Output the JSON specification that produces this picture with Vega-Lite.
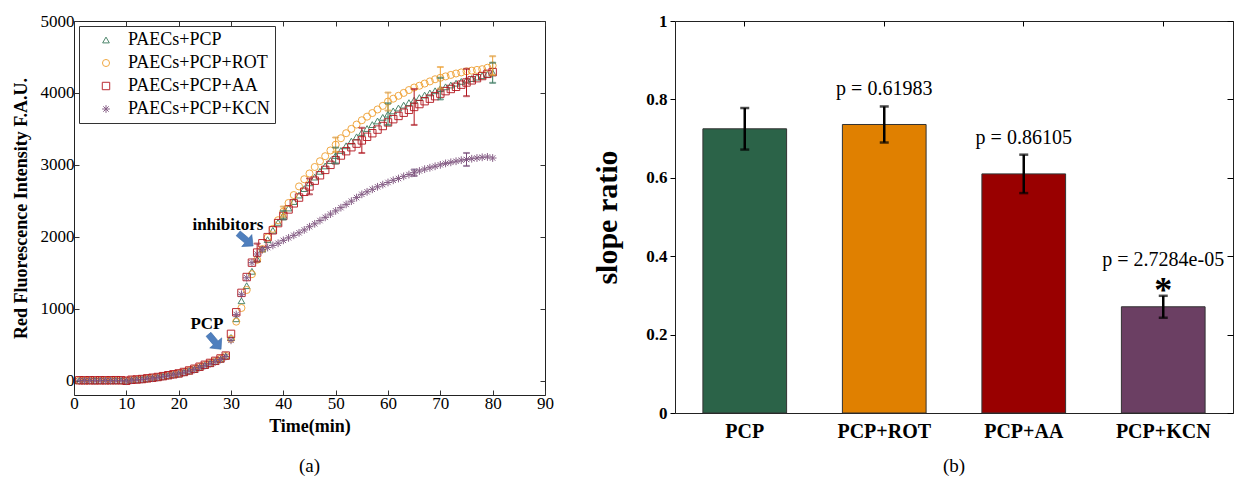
{
  "$schema": "https://vega.github.io/schema/vega-lite/v6.json",
  "padding": {"left": 11, "top": 11, "right": 0, "bottom": 0},
  "bounds": "flush",
  "spacing": 130,
  "resolve": {
    "scale": {"color": "independent", "shape": "independent", "size": "independent", "stroke": "independent"},
    "legend": {"color": "independent", "shape": "independent", "size": "independent", "stroke": "independent"}
  },
  "config": {
    "font": "Liberation Serif",
    "view": {"stroke": "#222", "strokeWidth": 1},
    "axis": {
      "grid": false,
      "labelFont": "Liberation Serif",
      "titleFont": "Liberation Serif",
      "labelColor": "#000",
      "titleColor": "#000",
      "tickColor": "#333",
      "domain": false
    },
    "legend": {"labelFont": "Liberation Serif", "titleFont": "Liberation Serif"},
    "text": {"font": "Liberation Serif"},
    "title": {"font": "Liberation Serif", "fontWeight": "normal", "fontSize": 19, "color": "#000"}
  },
  "datasets": {
    "curves": [
      {"t":1,"s":"PAECs+PCP","v":0},{"t":2,"s":"PAECs+PCP","v":0},{"t":3,"s":"PAECs+PCP","v":0},{"t":4,"s":"PAECs+PCP","v":0},{"t":5,"s":"PAECs+PCP","v":0},{"t":6,"s":"PAECs+PCP","v":0},{"t":7,"s":"PAECs+PCP","v":0},{"t":8,"s":"PAECs+PCP","v":0},{"t":9,"s":"PAECs+PCP","v":0},{"t":10,"s":"PAECs+PCP","v":-5},
      {"t":11,"s":"PAECs+PCP","v":8},{"t":12,"s":"PAECs+PCP","v":12},{"t":13,"s":"PAECs+PCP","v":18},{"t":14,"s":"PAECs+PCP","v":27},{"t":15,"s":"PAECs+PCP","v":36},{"t":16,"s":"PAECs+PCP","v":46},{"t":17,"s":"PAECs+PCP","v":58},{"t":18,"s":"PAECs+PCP","v":70},{"t":19,"s":"PAECs+PCP","v":83},{"t":20,"s":"PAECs+PCP","v":95},
      {"t":21,"s":"PAECs+PCP","v":114},{"t":22,"s":"PAECs+PCP","v":135},{"t":23,"s":"PAECs+PCP","v":158},{"t":24,"s":"PAECs+PCP","v":188},{"t":25,"s":"PAECs+PCP","v":212},{"t":26,"s":"PAECs+PCP","v":238},{"t":27,"s":"PAECs+PCP","v":266},{"t":28,"s":"PAECs+PCP","v":298},{"t":29,"s":"PAECs+PCP","v":340},{"t":30,"s":"PAECs+PCP","v":600},
      {"t":31,"s":"PAECs+PCP","v":860},{"t":32,"s":"PAECs+PCP","v":1110},{"t":33,"s":"PAECs+PCP","v":1320},{"t":34,"s":"PAECs+PCP","v":1520},{"t":35,"s":"PAECs+PCP","v":1690},{"t":36,"s":"PAECs+PCP","v":1830},{"t":37,"s":"PAECs+PCP","v":1960},{"t":38,"s":"PAECs+PCP","v":2090},{"t":39,"s":"PAECs+PCP","v":2200},{"t":40,"s":"PAECs+PCP","v":2300},
      {"t":41,"s":"PAECs+PCP","v":2400},{"t":42,"s":"PAECs+PCP","v":2490},{"t":43,"s":"PAECs+PCP","v":2580},{"t":44,"s":"PAECs+PCP","v":2670},{"t":45,"s":"PAECs+PCP","v":2750},{"t":46,"s":"PAECs+PCP","v":2830},{"t":47,"s":"PAECs+PCP","v":2910},{"t":48,"s":"PAECs+PCP","v":2985},{"t":49,"s":"PAECs+PCP","v":3060},{"t":50,"s":"PAECs+PCP","v":3130},
      {"t":51,"s":"PAECs+PCP","v":3200},{"t":52,"s":"PAECs+PCP","v":3265},{"t":53,"s":"PAECs+PCP","v":3330},{"t":54,"s":"PAECs+PCP","v":3390},{"t":55,"s":"PAECs+PCP","v":3450},{"t":56,"s":"PAECs+PCP","v":3505},{"t":57,"s":"PAECs+PCP","v":3560},{"t":58,"s":"PAECs+PCP","v":3610},{"t":59,"s":"PAECs+PCP","v":3660},{"t":60,"s":"PAECs+PCP","v":3705},
      {"t":61,"s":"PAECs+PCP","v":3750},{"t":62,"s":"PAECs+PCP","v":3790},{"t":63,"s":"PAECs+PCP","v":3830},{"t":64,"s":"PAECs+PCP","v":3865},{"t":65,"s":"PAECs+PCP","v":3900},{"t":66,"s":"PAECs+PCP","v":3935},{"t":67,"s":"PAECs+PCP","v":3970},{"t":68,"s":"PAECs+PCP","v":4000},{"t":69,"s":"PAECs+PCP","v":4030},{"t":70,"s":"PAECs+PCP","v":4060},
      {"t":71,"s":"PAECs+PCP","v":4085},{"t":72,"s":"PAECs+PCP","v":4110},{"t":73,"s":"PAECs+PCP","v":4135},{"t":74,"s":"PAECs+PCP","v":4160},{"t":75,"s":"PAECs+PCP","v":4180},{"t":76,"s":"PAECs+PCP","v":4200},{"t":77,"s":"PAECs+PCP","v":4220},{"t":78,"s":"PAECs+PCP","v":4240},{"t":79,"s":"PAECs+PCP","v":4260},{"t":80,"s":"PAECs+PCP","v":4280},

      {"t":1,"s":"PAECs+PCP+ROT","v":2},{"t":2,"s":"PAECs+PCP+ROT","v":1},{"t":3,"s":"PAECs+PCP+ROT","v":2},{"t":4,"s":"PAECs+PCP+ROT","v":0},{"t":5,"s":"PAECs+PCP+ROT","v":1},{"t":6,"s":"PAECs+PCP+ROT","v":3},{"t":7,"s":"PAECs+PCP+ROT","v":2},{"t":8,"s":"PAECs+PCP+ROT","v":1},{"t":9,"s":"PAECs+PCP+ROT","v":2},{"t":10,"s":"PAECs+PCP+ROT","v":-3},
      {"t":11,"s":"PAECs+PCP+ROT","v":10},{"t":12,"s":"PAECs+PCP+ROT","v":14},{"t":13,"s":"PAECs+PCP+ROT","v":20},{"t":14,"s":"PAECs+PCP+ROT","v":28},{"t":15,"s":"PAECs+PCP+ROT","v":38},{"t":16,"s":"PAECs+PCP+ROT","v":48},{"t":17,"s":"PAECs+PCP+ROT","v":60},{"t":18,"s":"PAECs+PCP+ROT","v":73},{"t":19,"s":"PAECs+PCP+ROT","v":86},{"t":20,"s":"PAECs+PCP+ROT","v":99},
      {"t":21,"s":"PAECs+PCP+ROT","v":118},{"t":22,"s":"PAECs+PCP+ROT","v":139},{"t":23,"s":"PAECs+PCP+ROT","v":162},{"t":24,"s":"PAECs+PCP+ROT","v":190},{"t":25,"s":"PAECs+PCP+ROT","v":215},{"t":26,"s":"PAECs+PCP+ROT","v":242},{"t":27,"s":"PAECs+PCP+ROT","v":270},{"t":28,"s":"PAECs+PCP+ROT","v":302},{"t":29,"s":"PAECs+PCP+ROT","v":343},{"t":30,"s":"PAECs+PCP+ROT","v":580},
      {"t":31,"s":"PAECs+PCP+ROT","v":820},{"t":32,"s":"PAECs+PCP+ROT","v":1010},{"t":33,"s":"PAECs+PCP+ROT","v":1260},{"t":34,"s":"PAECs+PCP+ROT","v":1480},{"t":35,"s":"PAECs+PCP+ROT","v":1680},{"t":36,"s":"PAECs+PCP+ROT","v":1830},{"t":37,"s":"PAECs+PCP+ROT","v":1990},{"t":38,"s":"PAECs+PCP+ROT","v":2110},{"t":39,"s":"PAECs+PCP+ROT","v":2230},{"t":40,"s":"PAECs+PCP+ROT","v":2350},
      {"t":41,"s":"PAECs+PCP+ROT","v":2470},{"t":42,"s":"PAECs+PCP+ROT","v":2580},{"t":43,"s":"PAECs+PCP+ROT","v":2700},{"t":44,"s":"PAECs+PCP+ROT","v":2800},{"t":45,"s":"PAECs+PCP+ROT","v":2880},{"t":46,"s":"PAECs+PCP+ROT","v":2970},{"t":47,"s":"PAECs+PCP+ROT","v":3050},{"t":48,"s":"PAECs+PCP+ROT","v":3120},{"t":49,"s":"PAECs+PCP+ROT","v":3200},{"t":50,"s":"PAECs+PCP+ROT","v":3280},
      {"t":51,"s":"PAECs+PCP+ROT","v":3370},{"t":52,"s":"PAECs+PCP+ROT","v":3440},{"t":53,"s":"PAECs+PCP+ROT","v":3500},{"t":54,"s":"PAECs+PCP+ROT","v":3560},{"t":55,"s":"PAECs+PCP+ROT","v":3620},{"t":56,"s":"PAECs+PCP+ROT","v":3670},{"t":57,"s":"PAECs+PCP+ROT","v":3720},{"t":58,"s":"PAECs+PCP+ROT","v":3770},{"t":59,"s":"PAECs+PCP+ROT","v":3820},{"t":60,"s":"PAECs+PCP+ROT","v":3880},
      {"t":61,"s":"PAECs+PCP+ROT","v":3920},{"t":62,"s":"PAECs+PCP+ROT","v":3960},{"t":63,"s":"PAECs+PCP+ROT","v":4000},{"t":64,"s":"PAECs+PCP+ROT","v":4040},{"t":65,"s":"PAECs+PCP+ROT","v":4075},{"t":66,"s":"PAECs+PCP+ROT","v":4100},{"t":67,"s":"PAECs+PCP+ROT","v":4130},{"t":68,"s":"PAECs+PCP+ROT","v":4160},{"t":69,"s":"PAECs+PCP+ROT","v":4190},{"t":70,"s":"PAECs+PCP+ROT","v":4210},
      {"t":71,"s":"PAECs+PCP+ROT","v":4230},{"t":72,"s":"PAECs+PCP+ROT","v":4250},{"t":73,"s":"PAECs+PCP+ROT","v":4270},{"t":74,"s":"PAECs+PCP+ROT","v":4285},{"t":75,"s":"PAECs+PCP+ROT","v":4300},{"t":76,"s":"PAECs+PCP+ROT","v":4310},{"t":77,"s":"PAECs+PCP+ROT","v":4320},{"t":78,"s":"PAECs+PCP+ROT","v":4330},{"t":79,"s":"PAECs+PCP+ROT","v":4350},{"t":80,"s":"PAECs+PCP+ROT","v":4380},

      {"t":1,"s":"PAECs+PCP+AA","v":5},{"t":2,"s":"PAECs+PCP+AA","v":4},{"t":3,"s":"PAECs+PCP+AA","v":5},{"t":4,"s":"PAECs+PCP+AA","v":4},{"t":5,"s":"PAECs+PCP+AA","v":5},{"t":6,"s":"PAECs+PCP+AA","v":4},{"t":7,"s":"PAECs+PCP+AA","v":5},{"t":8,"s":"PAECs+PCP+AA","v":6},{"t":9,"s":"PAECs+PCP+AA","v":5},{"t":10,"s":"PAECs+PCP+AA","v":-2},
      {"t":11,"s":"PAECs+PCP+AA","v":12},{"t":12,"s":"PAECs+PCP+AA","v":16},{"t":13,"s":"PAECs+PCP+AA","v":22},{"t":14,"s":"PAECs+PCP+AA","v":32},{"t":15,"s":"PAECs+PCP+AA","v":40},{"t":16,"s":"PAECs+PCP+AA","v":50},{"t":17,"s":"PAECs+PCP+AA","v":62},{"t":18,"s":"PAECs+PCP+AA","v":75},{"t":19,"s":"PAECs+PCP+AA","v":88},{"t":20,"s":"PAECs+PCP+AA","v":100},
      {"t":21,"s":"PAECs+PCP+AA","v":120},{"t":22,"s":"PAECs+PCP+AA","v":141},{"t":23,"s":"PAECs+PCP+AA","v":165},{"t":24,"s":"PAECs+PCP+AA","v":193},{"t":25,"s":"PAECs+PCP+AA","v":220},{"t":26,"s":"PAECs+PCP+AA","v":246},{"t":27,"s":"PAECs+PCP+AA","v":275},{"t":28,"s":"PAECs+PCP+AA","v":308},{"t":29,"s":"PAECs+PCP+AA","v":348},{"t":30,"s":"PAECs+PCP+AA","v":650},
      {"t":31,"s":"PAECs+PCP+AA","v":950},{"t":32,"s":"PAECs+PCP+AA","v":1220},{"t":33,"s":"PAECs+PCP+AA","v":1440},{"t":34,"s":"PAECs+PCP+AA","v":1640},{"t":35,"s":"PAECs+PCP+AA","v":1780},{"t":36,"s":"PAECs+PCP+AA","v":1910},{"t":37,"s":"PAECs+PCP+AA","v":1995},{"t":38,"s":"PAECs+PCP+AA","v":2090},{"t":39,"s":"PAECs+PCP+AA","v":2190},{"t":40,"s":"PAECs+PCP+AA","v":2290},
      {"t":41,"s":"PAECs+PCP+AA","v":2380},{"t":42,"s":"PAECs+PCP+AA","v":2465},{"t":43,"s":"PAECs+PCP+AA","v":2545},{"t":44,"s":"PAECs+PCP+AA","v":2625},{"t":45,"s":"PAECs+PCP+AA","v":2700},{"t":46,"s":"PAECs+PCP+AA","v":2780},{"t":47,"s":"PAECs+PCP+AA","v":2855},{"t":48,"s":"PAECs+PCP+AA","v":2930},{"t":49,"s":"PAECs+PCP+AA","v":3000},{"t":50,"s":"PAECs+PCP+AA","v":3065},
      {"t":51,"s":"PAECs+PCP+AA","v":3130},{"t":52,"s":"PAECs+PCP+AA","v":3190},{"t":53,"s":"PAECs+PCP+AA","v":3245},{"t":54,"s":"PAECs+PCP+AA","v":3295},{"t":55,"s":"PAECs+PCP+AA","v":3340},{"t":56,"s":"PAECs+PCP+AA","v":3390},{"t":57,"s":"PAECs+PCP+AA","v":3440},{"t":58,"s":"PAECs+PCP+AA","v":3490},{"t":59,"s":"PAECs+PCP+AA","v":3540},{"t":60,"s":"PAECs+PCP+AA","v":3590},
      {"t":61,"s":"PAECs+PCP+AA","v":3635},{"t":62,"s":"PAECs+PCP+AA","v":3680},{"t":63,"s":"PAECs+PCP+AA","v":3725},{"t":64,"s":"PAECs+PCP+AA","v":3765},{"t":65,"s":"PAECs+PCP+AA","v":3805},{"t":66,"s":"PAECs+PCP+AA","v":3845},{"t":67,"s":"PAECs+PCP+AA","v":3885},{"t":68,"s":"PAECs+PCP+AA","v":3920},{"t":69,"s":"PAECs+PCP+AA","v":3955},{"t":70,"s":"PAECs+PCP+AA","v":3990},
      {"t":71,"s":"PAECs+PCP+AA","v":4025},{"t":72,"s":"PAECs+PCP+AA","v":4055},{"t":73,"s":"PAECs+PCP+AA","v":4085},{"t":74,"s":"PAECs+PCP+AA","v":4115},{"t":75,"s":"PAECs+PCP+AA","v":4145},{"t":76,"s":"PAECs+PCP+AA","v":4175},{"t":77,"s":"PAECs+PCP+AA","v":4205},{"t":78,"s":"PAECs+PCP+AA","v":4235},{"t":79,"s":"PAECs+PCP+AA","v":4265},{"t":80,"s":"PAECs+PCP+AA","v":4290},

      {"t":1,"s":"PAECs+PCP+KCN","v":-2},{"t":2,"s":"PAECs+PCP+KCN","v":-1},{"t":3,"s":"PAECs+PCP+KCN","v":0},{"t":4,"s":"PAECs+PCP+KCN","v":-2},{"t":5,"s":"PAECs+PCP+KCN","v":-1},{"t":6,"s":"PAECs+PCP+KCN","v":0},{"t":7,"s":"PAECs+PCP+KCN","v":-1},{"t":8,"s":"PAECs+PCP+KCN","v":-2},{"t":9,"s":"PAECs+PCP+KCN","v":0},{"t":10,"s":"PAECs+PCP+KCN","v":-8},
      {"t":11,"s":"PAECs+PCP+KCN","v":5},{"t":12,"s":"PAECs+PCP+KCN","v":10},{"t":13,"s":"PAECs+PCP+KCN","v":15},{"t":14,"s":"PAECs+PCP+KCN","v":25},{"t":15,"s":"PAECs+PCP+KCN","v":33},{"t":16,"s":"PAECs+PCP+KCN","v":43},{"t":17,"s":"PAECs+PCP+KCN","v":55},{"t":18,"s":"PAECs+PCP+KCN","v":67},{"t":19,"s":"PAECs+PCP+KCN","v":80},{"t":20,"s":"PAECs+PCP+KCN","v":92},
      {"t":21,"s":"PAECs+PCP+KCN","v":110},{"t":22,"s":"PAECs+PCP+KCN","v":131},{"t":23,"s":"PAECs+PCP+KCN","v":154},{"t":24,"s":"PAECs+PCP+KCN","v":183},{"t":25,"s":"PAECs+PCP+KCN","v":208},{"t":26,"s":"PAECs+PCP+KCN","v":234},{"t":27,"s":"PAECs+PCP+KCN","v":262},{"t":28,"s":"PAECs+PCP+KCN","v":293},{"t":29,"s":"PAECs+PCP+KCN","v":335},{"t":30,"s":"PAECs+PCP+KCN","v":560},
      {"t":31,"s":"PAECs+PCP+KCN","v":920},{"t":32,"s":"PAECs+PCP+KCN","v":1200},{"t":33,"s":"PAECs+PCP+KCN","v":1430},{"t":34,"s":"PAECs+PCP+KCN","v":1640},{"t":35,"s":"PAECs+PCP+KCN","v":1760},{"t":36,"s":"PAECs+PCP+KCN","v":1820},{"t":37,"s":"PAECs+PCP+KCN","v":1850},{"t":38,"s":"PAECs+PCP+KCN","v":1880},{"t":39,"s":"PAECs+PCP+KCN","v":1910},{"t":40,"s":"PAECs+PCP+KCN","v":1950},
      {"t":41,"s":"PAECs+PCP+KCN","v":1985},{"t":42,"s":"PAECs+PCP+KCN","v":2020},{"t":43,"s":"PAECs+PCP+KCN","v":2055},{"t":44,"s":"PAECs+PCP+KCN","v":2095},{"t":45,"s":"PAECs+PCP+KCN","v":2140},{"t":46,"s":"PAECs+PCP+KCN","v":2180},{"t":47,"s":"PAECs+PCP+KCN","v":2225},{"t":48,"s":"PAECs+PCP+KCN","v":2270},{"t":49,"s":"PAECs+PCP+KCN","v":2315},{"t":50,"s":"PAECs+PCP+KCN","v":2360},
      {"t":51,"s":"PAECs+PCP+KCN","v":2405},{"t":52,"s":"PAECs+PCP+KCN","v":2450},{"t":53,"s":"PAECs+PCP+KCN","v":2495},{"t":54,"s":"PAECs+PCP+KCN","v":2545},{"t":55,"s":"PAECs+PCP+KCN","v":2590},{"t":56,"s":"PAECs+PCP+KCN","v":2625},{"t":57,"s":"PAECs+PCP+KCN","v":2660},{"t":58,"s":"PAECs+PCP+KCN","v":2695},{"t":59,"s":"PAECs+PCP+KCN","v":2725},{"t":60,"s":"PAECs+PCP+KCN","v":2755},
      {"t":61,"s":"PAECs+PCP+KCN","v":2785},{"t":62,"s":"PAECs+PCP+KCN","v":2810},{"t":63,"s":"PAECs+PCP+KCN","v":2840},{"t":64,"s":"PAECs+PCP+KCN","v":2865},{"t":65,"s":"PAECs+PCP+KCN","v":2890},{"t":66,"s":"PAECs+PCP+KCN","v":2915},{"t":67,"s":"PAECs+PCP+KCN","v":2940},{"t":68,"s":"PAECs+PCP+KCN","v":2960},{"t":69,"s":"PAECs+PCP+KCN","v":2980},{"t":70,"s":"PAECs+PCP+KCN","v":3000},
      {"t":71,"s":"PAECs+PCP+KCN","v":3020},{"t":72,"s":"PAECs+PCP+KCN","v":3035},{"t":73,"s":"PAECs+PCP+KCN","v":3050},{"t":74,"s":"PAECs+PCP+KCN","v":3065},{"t":75,"s":"PAECs+PCP+KCN","v":3075},{"t":76,"s":"PAECs+PCP+KCN","v":3085},{"t":77,"s":"PAECs+PCP+KCN","v":3095},{"t":78,"s":"PAECs+PCP+KCN","v":3105},{"t":79,"s":"PAECs+PCP+KCN","v":3110},{"t":80,"s":"PAECs+PCP+KCN","v":3095}
    ],
    "curveErr": [
      {"t":40,"s":"PAECs+PCP","lo":2240,"hi":2360},
      {"t":50,"s":"PAECs+PCP","lo":3020,"hi":3240},
      {"t":60,"s":"PAECs+PCP","lo":3555,"hi":3855},
      {"t":70,"s":"PAECs+PCP","lo":3910,"hi":4210},
      {"t":80,"s":"PAECs+PCP","lo":4140,"hi":4420},
      {"t":40,"s":"PAECs+PCP+ROT","lo":2280,"hi":2420},
      {"t":50,"s":"PAECs+PCP+ROT","lo":3180,"hi":3380},
      {"t":60,"s":"PAECs+PCP+ROT","lo":3755,"hi":4005},
      {"t":70,"s":"PAECs+PCP+ROT","lo":4060,"hi":4360},
      {"t":80,"s":"PAECs+PCP+ROT","lo":4250,"hi":4510},
      {"t":35,"s":"PAECs+PCP+AA","lo":1655,"hi":1905},
      {"t":45,"s":"PAECs+PCP+AA","lo":2590,"hi":2810},
      {"t":55,"s":"PAECs+PCP+AA","lo":3165,"hi":3515},
      {"t":65,"s":"PAECs+PCP+AA","lo":3555,"hi":4055},
      {"t":75,"s":"PAECs+PCP+AA","lo":3955,"hi":4335},
      {"t":65,"s":"PAECs+PCP+KCN","lo":2845,"hi":2935},
      {"t":75,"s":"PAECs+PCP+KCN","lo":2985,"hi":3165}
    ],
    "notes": [
      {"t":25.4,"v":790,"label":"PCP"},
      {"t":29.4,"v":2165,"label":"inhibitors"}
    ],
    "arrows": [
      {"t":26.9,"v":540,"dir":50},
      {"t":32.8,"v":1960,"dir":40}
    ],
    "slopes": [
      {"g":"PCP","m":0.725,"lo":0.672,"hi":0.778,"p":""},
      {"g":"PCP+ROT","m":0.736,"lo":0.690,"hi":0.782,"p":"p = 0.61983"},
      {"g":"PCP+AA","m":0.610,"lo":0.561,"hi":0.659,"p":"p = 0.86105"},
      {"g":"PCP+KCN","m":0.271,"lo":0.243,"hi":0.299,"p":"p = 2.7284e-05"}
    ]
  },
  "hconcat": [
    {
      "width": 471,
      "height": 374,
      "title": {"text": "(a)", "orient": "bottom", "offset": 22, "fontSize": 19},
      "resolve": {"axis": {"x": "independent", "y": "independent"}},
      "layer": [
        {
          "data": {"name": "curves"},
          "mark": {"type": "point", "filled": false, "strokeWidth": 1, "opacity": 0.9},
          "encoding": {
            "x": {
              "field": "t", "type": "quantitative",
              "scale": {"domain": [0, 90], "nice": false, "zero": false},
              "axis": {"values": [0,10,20,30,40,50,60,70,80,90], "title": "Time(min)", "titleFontSize": 18, "titleFontWeight": "bold", "labelFontSize": 17, "tickSize": -5, "labelPadding": 5, "titlePadding": 6, "labelFlush": false}
            },
            "y": {
              "field": "v", "type": "quantitative",
              "scale": {"domain": [-200, 5000], "nice": false, "zero": false},
              "axis": {"values": [0,1000,2000,3000,4000,5000], "format": "d", "title": "Red Fluorescence Intensity F.A.U.", "titleFontSize": 18, "titleFontWeight": "bold", "labelFontSize": 17, "tickSize": -5, "labelPadding": 5, "titlePadding": 10}
            },
            "color": {
              "field": "s", "type": "nominal",
              "scale": {"domain": ["PAECs+PCP","PAECs+PCP+ROT","PAECs+PCP+AA","PAECs+PCP+KCN"], "range": ["#3a7a5c","#f0a030","#b3161e","#7b4f7b"]},
              "legend": {"title": null, "orient": "none", "legendX": 5, "legendY": 5, "labelFont": "Liberation Serif", "labelFontSize": 18, "labelColor": "#000", "strokeColor": "#333", "fillColor": "white", "padding": 5, "rowPadding": 5, "symbolOffset": 13, "labelOffset": 13, "symbolSize": 40, "symbolStrokeWidth": 1,
                "encode": {"symbols": {"update": {"fill": {"value": "transparent"}}}}}
            },
            "shape": {
              "field": "s", "type": "nominal",
              "scale": {"domain": ["PAECs+PCP","PAECs+PCP+ROT","PAECs+PCP+AA","PAECs+PCP+KCN"], "range": ["triangle-up","circle","square","M-1,0L1,0M0,-1L0,1M-0.7,-0.7L0.7,0.7M-0.7,0.7L0.7,-0.7"]}
            },
            "size": {
              "field": "s", "type": "nominal",
              "scale": {"domain": ["PAECs+PCP","PAECs+PCP+ROT","PAECs+PCP+AA","PAECs+PCP+KCN"], "range": [45, 60, 60, 40]},
              "legend": null
            }
          }
        },
        {
          "data": {"name": "curveErr"},
          "mark": {"type": "rule", "strokeWidth": 1},
          "encoding": {
            "x": {"field": "t", "type": "quantitative", "axis": null},
            "y": {"field": "lo", "type": "quantitative", "axis": null},
            "y2": {"field": "hi"},
            "stroke": {
              "field": "s", "type": "nominal",
              "scale": {"domain": ["PAECs+PCP","PAECs+PCP+ROT","PAECs+PCP+AA","PAECs+PCP+KCN"], "range": ["#3a7a5c","#f0a030","#b3161e","#7b4f7b"]},
              "legend": null
            }
          }
        },
        {
          "data": {"name": "curveErr"},
          "mark": {"type": "tick", "orient": "horizontal", "size": 6, "thickness": 1},
          "encoding": {
            "x": {"field": "t", "type": "quantitative", "axis": null},
            "y": {"field": "lo", "type": "quantitative", "axis": null},
            "stroke": {"field": "s", "type": "nominal", "legend": null}
          }
        },
        {
          "data": {"name": "curveErr"},
          "mark": {"type": "tick", "orient": "horizontal", "size": 6, "thickness": 1},
          "encoding": {
            "x": {"field": "t", "type": "quantitative", "axis": null},
            "y": {"field": "hi", "type": "quantitative", "axis": null},
            "stroke": {"field": "s", "type": "nominal", "legend": null}
          }
        },
        {
          "data": {"name": "arrows"},
          "mark": {"type": "point", "filled": true, "shape": "M-1,-0.32L0.15,-0.32L0.15,-0.8L1,0L0.15,0.8L0.15,0.32L-1,0.32Z", "size": 380, "color": "#4f7fbe", "stroke": "#3a6aa8", "strokeWidth": 0.6, "opacity": 1},
          "encoding": {
            "x": {"field": "t", "type": "quantitative", "axis": null},
            "y": {"field": "v", "type": "quantitative", "axis": null},
            "angle": {"field": "dir", "type": "quantitative", "scale": null}
          }
        },
        {
          "data": {"name": "notes"},
          "mark": {"type": "text", "font": "Liberation Serif", "fontWeight": "bold", "fontSize": 17, "color": "#000"},
          "encoding": {
            "x": {"field": "t", "type": "quantitative", "axis": {"orient": "top", "values": [0,10,20,30,40,50,60,70,80,90], "labels": false, "title": null, "tickSize": -5}},
            "y": {"field": "v", "type": "quantitative", "axis": {"orient": "right", "values": [0,1000,2000,3000,4000,5000], "labels": false, "title": null, "tickSize": -5}},
            "text": {"field": "label"}
          }
        }
      ]
    },
    {
      "width": 558,
      "height": 392,
      "title": {"text": "(b)", "orient": "bottom", "offset": 16, "fontSize": 19},
      "resolve": {"axis": {"x": "independent", "y": "independent"}},
      "layer": [
        {
          "data": {"name": "slopes"},
          "mark": {"type": "bar", "stroke": "#333", "strokeWidth": 1},
          "encoding": {
            "x": {
              "field": "g", "type": "nominal", "sort": null,
              "scale": {"paddingInner": 0.4, "paddingOuter": 0.2},
              "axis": {"title": null, "labelAngle": 0, "labelFontSize": 20, "labelFontWeight": "bold", "ticks": false, "labelPadding": 8}
            },
            "y": {
              "field": "m", "type": "quantitative",
              "scale": {"domain": [0, 1], "nice": false},
              "axis": {"values": [0,0.2,0.4,0.6,0.8,1], "format": "~g", "title": "slope ratio", "titleFontSize": 30, "titleFontWeight": "bold", "labelFontSize": 17, "labelFontWeight": "bold", "tickSize": 5, "tickColor": "#000", "labelPadding": 3, "titlePadding": 23}
            },
            "color": {
              "field": "g", "type": "nominal",
              "scale": {"domain": ["PCP","PCP+ROT","PCP+AA","PCP+KCN"], "range": ["#2b6348","#e08000","#990000","#6b3f63"]},
              "legend": null
            }
          }
        },
        {
          "data": {"name": "slopes"},
          "mark": {"type": "errorbar", "ticks": {"size": 9, "thickness": 2.5, "color": "#000"}, "rule": {"strokeWidth": 2.5, "color": "#000"}},
          "encoding": {
            "x": {"field": "g", "type": "nominal", "sort": null, "axis": null},
            "y": {"field": "lo", "type": "quantitative", "axis": null},
            "y2": {"field": "hi"}
          }
        },
        {
          "data": {"name": "slopes"},
          "transform": [{"filter": "datum.g === 'PCP+ROT' || datum.g === 'PCP+AA'"}],
          "mark": {"type": "text", "font": "Liberation Serif", "fontSize": 20, "dy": -17, "color": "#000"},
          "encoding": {
            "x": {"field": "g", "type": "nominal", "sort": null, "axis": null},
            "y": {"field": "hi", "type": "quantitative", "axis": null},
            "text": {"field": "p"}
          }
        },
        {
          "data": {"name": "slopes"},
          "transform": [{"filter": "datum.g === 'PCP+KCN'"}],
          "mark": {"type": "text", "font": "Liberation Serif", "fontSize": 20, "dy": -36, "color": "#000"},
          "encoding": {
            "x": {"field": "g", "type": "nominal", "sort": null, "axis": null},
            "y": {"field": "hi", "type": "quantitative", "axis": null},
            "text": {"field": "p"}
          }
        },
        {
          "data": {"name": "slopes"},
          "transform": [{"filter": "datum.g === 'PCP+KCN'"}],
          "mark": {"type": "text", "font": "Liberation Serif", "fontSize": 36, "fontWeight": "bold", "dy": -5, "baseline": "middle", "color": "#000", "text": "*"},
          "encoding": {
            "x": {"field": "g", "type": "nominal", "sort": null, "axis": {"orient": "top", "labels": false, "title": null, "tickSize": -5, "tickColor": "#000"}},
            "y": {"field": "hi", "type": "quantitative", "axis": {"orient": "right", "values": [0,0.2,0.4,0.6,0.8,1], "labels": false, "title": null, "tickSize": -6, "tickColor": "#000"}}
          }
        }
      ]
    }
  ]
}
